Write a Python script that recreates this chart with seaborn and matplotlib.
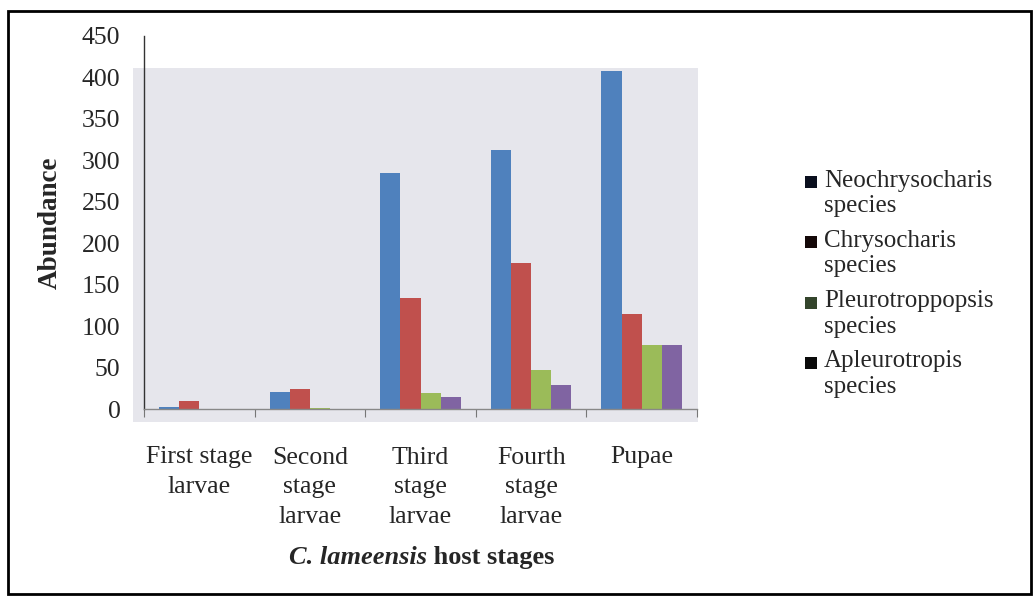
import pandas as pd
import matplotlib
matplotlib.use("Agg")
import matplotlib.pyplot as plt
import matplotlib.patches as mpatches
from matplotlib.legend_handler import HandlerPatch
import seaborn as sns

# Data
stages = ["First stage\nlarvae", "Second\nstage\nlarvae", "Third\nstage\nlarvae",
          "Fourth\nstage\nlarvae", "Pupae"]
species = ["Neochrysocharis\nspecies", "Chrysocharis\nspecies",
           "Pleurotroppopsis\nspecies", "Apleurotropis\nspecies"]
neochrysocharis = [2, 21, 285, 312, 408]
chrysocharis = [10, 24, 134, 176, 115]
pleurotroppopsis = [0, 1, 19, 47, 77]
apleurotropis = [0, 0, 15, 29, 77]

bar_colors = ["#4F81BD", "#C0504D", "#9BBB59", "#8064A2"]
legend_colors = ["#0a0f1e", "#140808", "#34452c", "#0a0a0a"]

rows = []
for sp, vals in zip(species, [neochrysocharis, chrysocharis, pleurotroppopsis, apleurotropis]):
    for st, v in zip(stages, vals):
        rows.append({"Stage": st, "Species": sp, "Abundance": v})
data = pd.DataFrame(rows)

sns.set_style("white")
plt.rcParams["font.family"] = ["Liberation Serif", "DejaVu Serif"]

fig = plt.figure(figsize=(10.34, 5.96), dpi=100)
ax = fig.add_axes([144 / 1034, 1 - 409 / 596, 553 / 1034, 373 / 596])

# grey plot area (slightly offset from the axis lines, like the original)
ax.patch.set_visible(False)
ax.add_patch(mpatches.Rectangle((-0.02, -0.035), 1.022, 0.949, transform=ax.transAxes,
                                facecolor="#e6e6ec", edgecolor="none", zorder=0, clip_on=False))

sns.barplot(data=data, x="Stage", y="Abundance", hue="Species", palette=bar_colors,
            width=0.73, saturation=1, legend=False, linewidth=0, edgecolor="none",
            ax=ax, zorder=2)

ax.set_ylim(0, 450)
ax.set_xlim(-0.5, 4.5)
ax.set_yticks(range(0, 451, 50))
ax.tick_params(axis="y", length=0, pad=17, labelsize=18.5)
ax.tick_params(axis="x", which="major", length=0, pad=27, labelsize=18.5)
for t in ax.get_xticklabels():
    t.set_linespacing(1.45)
ax.set_xticks([i - 0.5 for i in range(6)], minor=True)
ax.tick_params(axis="x", which="minor", length=6, width=0.8, color="#777777", bottom=True)
ax.set_xlabel("")
ax.set_ylabel("Abundance", fontsize=19.5, fontweight="bold", labelpad=14)

for s in ["top", "right"]:
    ax.spines[s].set_visible(False)
ax.spines["left"].set_color("#333333")
ax.spines["left"].set_linewidth(1.0)
ax.spines["bottom"].set_color("#888888")
ax.spines["bottom"].set_linewidth(1.0)

# x axis title: italic species name + bold text
t1 = fig.text(289 / 1034, 1 - 569 / 596, "C. lameensis", fontsize=19, fontweight="bold",
              fontstyle="italic", ha="left", va="bottom")
ax.annotate(" host stages", xy=(1, 0), xycoords=t1, fontsize=19, fontweight="bold",
            ha="left", va="bottom")


# legend with the square beside the first line of each label
def top_square(legend, orig_handle, xdescent, ydescent, width, height, fontsize):
    s = 0.48 * fontsize
    return mpatches.Rectangle((width - s - xdescent, 0.55 * fontsize), s, s)


handles = [mpatches.Patch(facecolor=c, edgecolor="none") for c in legend_colors]
leg = fig.legend(handles, species, loc="upper left", bbox_to_anchor=(789 / 1034, 1 - 157 / 596),
                 frameon=False, fontsize=18, handlelength=0.6, handletextpad=0.3,
                 labelspacing=0.5, borderpad=0,
                 handler_map={mpatches.Patch: HandlerPatch(patch_func=top_square)})
for t in leg.get_texts():
    t.set_linespacing(1.22)

# outer frame
fig.patches.append(mpatches.Rectangle((8 / 1034, 2 / 596), 1023 / 1034, 583 / 596,
                                      transform=fig.transFigure, fill=False,
                                      edgecolor="black", linewidth=2))

fig.savefig("out.png", dpi=100)
